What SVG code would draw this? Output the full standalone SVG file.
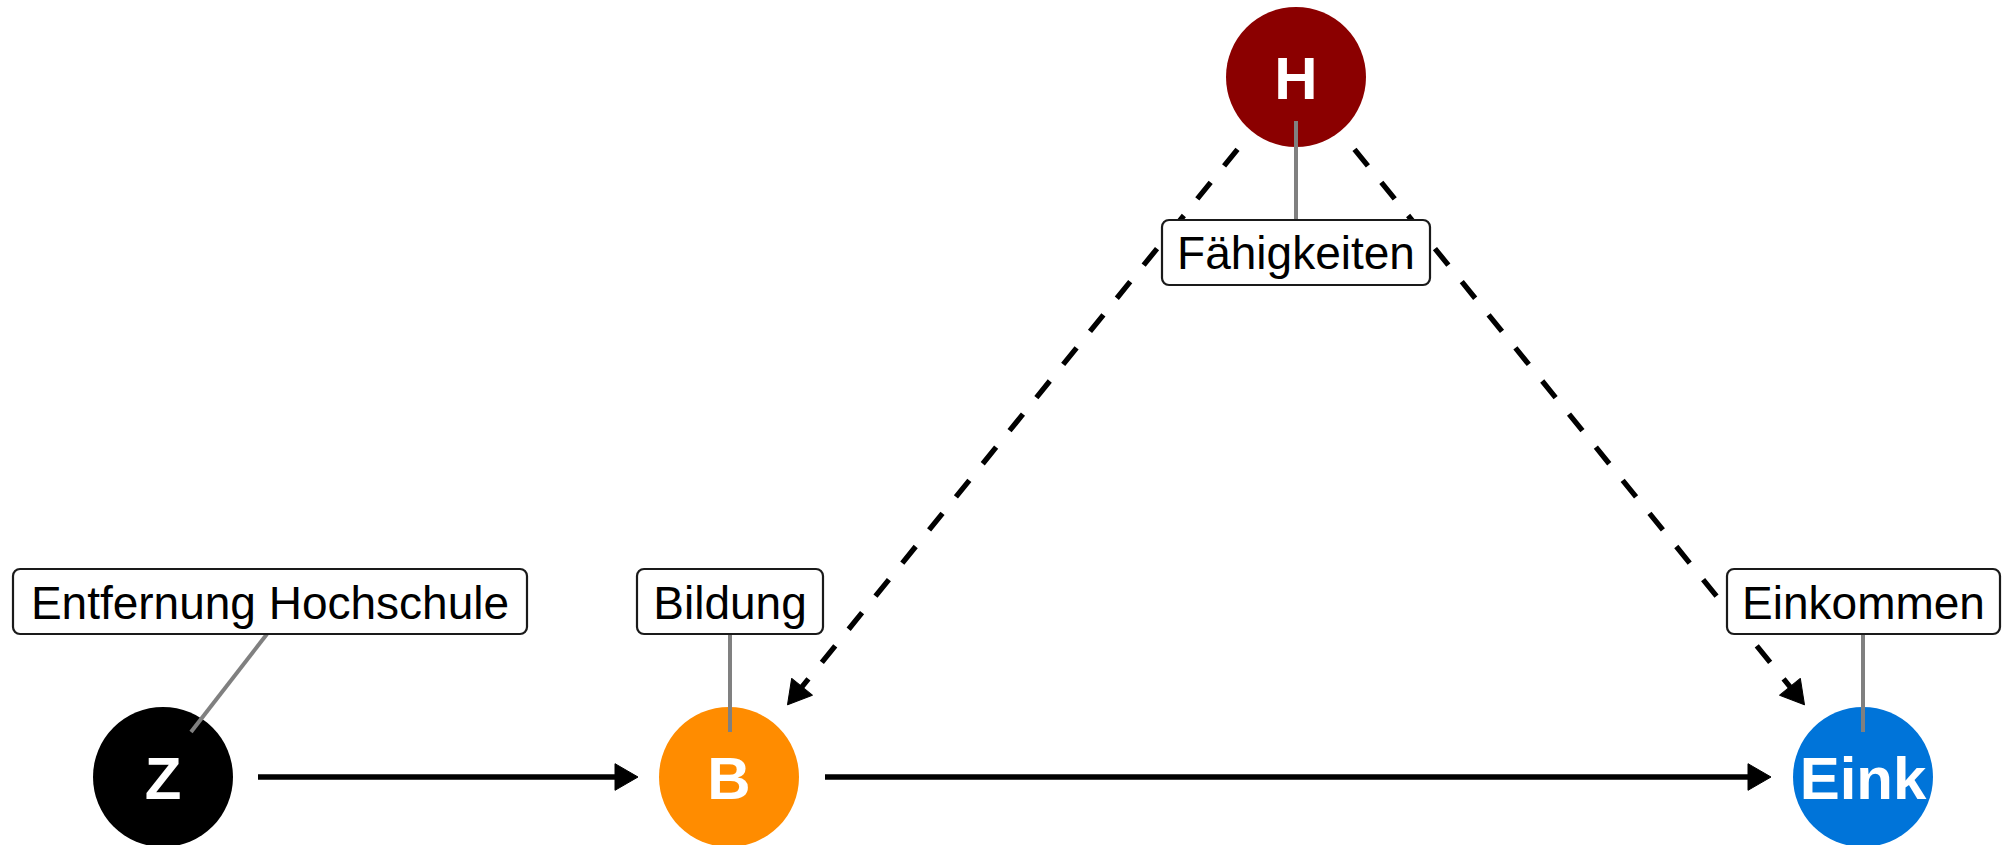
<svg xmlns="http://www.w3.org/2000/svg" width="2005" height="845" viewBox="0 0 2005 845">
<style>
.edge{fill:none;stroke:#000;stroke-width:5.3}
.dash{stroke-dasharray:21.3 21.3}
.lead{stroke:#808080;stroke-width:4;fill:none}
.box{fill:#fff;stroke:#1a1a1a;stroke-width:2.2}
.lbl{font-family:"Liberation Sans",Arial,sans-serif;font-size:46px;fill:#000;text-anchor:middle}
.nl{font-family:"Liberation Sans",Arial,sans-serif;font-weight:bold;font-size:60px;fill:#fff;text-anchor:middle}
</style>
<defs>
<marker id="ah" markerUnits="userSpaceOnUse" markerWidth="23" markerHeight="27" refX="14" refY="13.3" orient="auto" overflow="visible">
<path d="M0,0 L23,13.3 L0,26.6 Z" fill="#000" stroke="#000" stroke-width="1" stroke-linejoin="round"/>
</marker>
</defs>
<rect width="2005" height="845" fill="#fff"/>
<g id="edges">
<line class="edge" x1="258" y1="777" x2="629" y2="777" marker-end="url(#ah)"/>
<line class="edge" x1="825" y1="777" x2="1762" y2="777" marker-end="url(#ah)"/>
<line class="edge dash" x1="1237.5" y1="149.3" x2="793.2" y2="697.7" marker-end="url(#ah)"/>
<line class="edge dash" x1="1354.5" y1="149.3" x2="1798.8" y2="697.7" marker-end="url(#ah)"/>
</g>
<g id="node-Z">
<circle cx="163" cy="777" r="70" fill="#000"/>
<text class="nl" x="163" y="798.5">Z</text>
<line class="lead" x1="267" y1="634" x2="191" y2="732"/>
<rect class="box" x="13" y="569" width="514" height="65" rx="7"/>
<text class="lbl" x="270" y="619">Entfernung Hochschule</text>
</g>
<g id="node-B">
<circle cx="729" cy="777" r="70" fill="#FF8C00"/>
<text class="nl" x="729" y="798.5">B</text>
<line class="lead" x1="730" y1="634" x2="730" y2="732"/>
<rect class="box" x="637" y="569" width="186" height="65" rx="7"/>
<text class="lbl" x="730" y="619">Bildung</text>
</g>
<g id="node-Eink">
<circle cx="1863" cy="777" r="70" fill="#0074D9"/>
<text class="nl" x="1863" y="798.5">Eink</text>
<line class="lead" x1="1863" y1="634" x2="1863" y2="732"/>
<rect class="box" x="1727" y="569" width="273" height="65" rx="7"/>
<text class="lbl" x="1863.5" y="619">Einkommen</text>
</g>
<g id="node-H">
<circle cx="1296" cy="77" r="70" fill="#8B0000"/>
<text class="nl" x="1296" y="99">H</text>
<line class="lead" x1="1296" y1="121" x2="1296" y2="220"/>
<rect class="box" x="1162" y="220" width="268" height="65" rx="7"/>
<text class="lbl" x="1296" y="269">Fähigkeiten</text>
</g>
</svg>
